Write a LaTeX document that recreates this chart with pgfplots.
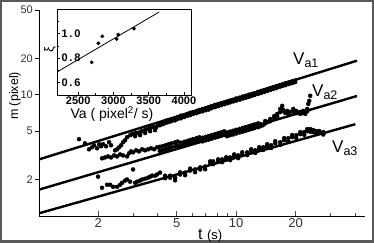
\documentclass[border=0pt]{standalone}
\usepackage{fontspec}
\setmainfont{Liberation Sans}
\usepackage{pgfplots}
\pgfplotsset{compat=1.18}
\newcommand\fs[1]{\fontsize{#1bp}{#1bp}\selectfont}
\begin{document}
\begin{tikzpicture}
\fill[black!65] (0,0) rectangle (374bp,243bp);
\fill[white] (2bp,3bp) rectangle (372bp,241bp);
% y axis only
\begin{axis}[at={(39bp,27bp)}, anchor=south west, scale only axis,
  width=326bp, height=206bp, xmode=log, ymode=log,
  xmin=1, xmax=45, ymin=1, ymax=50,
  hide x axis, axis y line*=left,
  axis line style={line width=1bp},
  ytick={2,5,10,20,50}, yticklabels={2,5,10,20,50},
  tick align=outside, major tick length=4.5bp,
  tick style={line width=0.8bp, black},
  yticklabel style={font=\fs{11}, text=black!80, inner sep=1.5bp},
  /pgf/number format/assume math mode=true]
\end{axis}
% main
\begin{axis}[at={(39bp,27bp)}, anchor=south west, scale only axis,
  width=326bp, height=206bp, xmode=log, ymode=log,
  xmin=1, xmax=45, ymin=1, ymax=50,
  hide y axis, axis x line*=bottom,
  axis line style={line width=1bp},
  xtick={2,5,10,20}, xticklabels={2,5,10,20},
  minor xtick={3,4,6,7,8,9,30,40},
  tick align=inside, major tick length=5bp, minor tick length=3bp,
  tick style={line width=0.8bp, black!70},
  xticklabel style={font=\fs{13}, text=black!80, inner sep=2bp},
  /pgf/number format/assume math mode=true]
\addplot[black, line width=2.4bp] coordinates {(1,2.93) (41,19.1)};
\addplot[black, line width=2.4bp] coordinates {(1,1.65) (41,9.77)};
\addplot[black, line width=2.4bp] coordinates {(1,1.053) (40.2,5.72)};
% series 1
\addplot[only marks, mark=*, mark size=2bp, black] table {
t m
1.596 4.30
1.712 3.98
1.794 3.55
1.858 3.69
1.902 3.83
1.970 3.62
2.017 3.91
2.064 3.76
2.113 3.91
2.188 3.76
2.266 4.06
2.320 3.83
2.431 3.48
2.489 3.55
2.548 3.69
2.608 3.83
2.670 4.06
2.733 4.22
2.797 4.47
2.897 4.64
2.966 4.73
3.072 4.83
3.145 4.83
3.256 4.92
3.333 5.01
3.452 5.11
3.533 5.21
3.660 5.31
3.791 5.41
3.927 5.41
4.018 5.62
3.072 4.55
3.256 4.64
3.452 4.83
3.660 5.01
3.880 5.11
4.1 5.85
4.1 5.60
4.25 5.95
4.25 5.72
4.4 6.10
4.4 5.85
4.55 6.18
4.55 5.95
4.7 6.30
4.7 6.05
4.9 6.40
4.9 6.15
5.05 6.55
5.05 6.30
5.25 6.72
5.25 6.40
5.45 6.80
5.45 6.55
5.65 6.95
5.65 6.70
5.85 7.10
5.85 6.80
6.05 7.20
6.05 6.95
6.3 7.35
6.3 7.05
6.5 7.50
6.5 7.20
6.75 7.62
6.75 7.30
7.0 7.75
7.0 7.45
7.25 7.90
7.25 7.55
7.5 8.05
7.5 7.75
7.8 8.25
7.8 7.90
8.1 8.38
8.1 8.05
8.4 8.55
8.4 8.20
8.7 8.65
8.7 8.35
9.0 8.80
9.0 8.50
9.3 8.95
9.3 8.65
9.65 9.10
9.65 8.80
10.0 9.30
10.0 8.95
10.4 9.45
10.4 9.10
10.8 9.65
10.8 9.30
11.2 9.80
11.2 9.45
11.6 10.0
11.6 9.60
12.0 10.15
12.0 9.80
12.4 10.30
12.4 9.95
12.9 10.55
12.9 10.15
13.4 10.75
13.4 10.35
13.9 10.95
13.9 10.55
14.4 11.15
14.4 10.75
14.9 11.35
14.9 10.95
15.4 11.55
15.4 11.15
16.0 11.80
16.0 11.35
16.6 12.0
16.6 11.60
17.2 12.2
17.2 11.80
17.8 12.45
17.8 12.0
18.5 12.65
18.5 12.25
19.2 12.90
19.2 12.45
19.9 13.1
19.9 12.7
};
% series 2
\addplot[only marks, mark=*, mark size=2bp, black] table {
t m
1.993 2.11
2.088 2.99
2.163 3.04
2.240 3.10
2.320 3.04
2.403 3.16
2.489 3.10
2.578 3.22
2.670 3.16
2.797 3.10
2.863 3.29
2.931 3.41
3.000 3.35
3.108 3.48
3.218 3.41
3.333 3.55
3.452 3.48
3.575 3.55
3.703 3.62
3.836 3.55
3.972 3.69
4.1 3.72
4.1 3.44
4.25 3.78
4.25 3.50
4.4 3.84
4.4 3.56
4.55 3.91
4.55 3.62
4.7 3.97
4.7 3.67
4.9 4.05
4.9 3.75
5.05 4.11
5.05 3.80
5.25 4.02
5.25 3.76
5.45 4.09
5.45 3.83
5.65 4.16
5.65 3.90
5.85 4.24
5.85 3.97
6.05 4.30
6.05 4.03
6.3 4.39
6.3 4.11
6.5 4.46
6.5 4.17
6.75 4.42
6.75 4.13
7.0 4.49
7.0 4.20
7.25 4.57
7.25 4.27
7.5 4.64
7.5 4.34
7.8 4.73
7.8 4.42
8.1 4.82
8.1 4.50
8.4 4.90
8.4 4.58
8.7 4.99
8.7 4.66
9.0 4.88
9.0 4.55
9.3 4.96
9.3 4.63
9.65 5.05
9.65 4.70
10.0 5.14
10.0 4.79
10.4 5.23
10.4 4.88
10.8 5.33
10.8 4.96
11.2 5.42
11.2 5.05
11.6 5.51
11.6 5.14
12.0 5.60
12.0 5.22
12.4 5.70
12.4 5.31
12.9 5.80
12.9 5.40
13.24 5.73
14.04 6.07
14.88 6.31
15.59 6.68
16.15 6.95
16.73 7.64
17.12 8.10
17.32 7.50
17.73 7.08
18.15 7.36
18.80 7.22
19.47 7.64
20.16 7.36
21.13 7.22
21.88 7.36
22.40 7.22
22.93 7.64
23.20 8.41
23.47 8.91
23.74 9.81
13.24 5.50
13.64 5.60
14.04 5.80
14.46 5.95
14.88 6.05
15.59 6.40
16.15 6.65
16.73 7.20
17.12 7.40
18.15 7.05
18.50 7.05
19.47 7.30
19.80 7.10
20.16 7.05
20.65 7.10
21.13 6.95
21.50 7.05
22.40 6.95
22.93 7.30
};
% series 3
\addplot[only marks, mark=*, mark size=2bp, black] table {
t m
2.088 1.71
2.214 1.81
2.293 1.81
2.375 1.74
2.489 1.74
2.578 1.81
2.639 1.88
2.733 1.96
2.797 2.00
2.897 1.92
3.000 2.42
3.072 1.88
3.145 1.92
3.256 1.96
3.333 2.00
3.452 2.03
3.575 2.07
3.660 2.11
3.747 2.15
3.880 2.15
3.972 2.20
4.11 2.28
4.36 2.15
4.62 2.07
4.90 2.07
5.20 2.20
5.51 2.28
5.84 2.37
6.19 2.42
6.57 2.42
6.96 2.56
7.38 2.71
7.64 2.82
8.10 2.82
8.49 2.93
8.90 2.93
9.32 3.04
9.77 3.10
10.24 3.16
10.73 3.22
11.37 3.35
11.92 3.41
12.49 3.48
13.09 3.55
13.71 3.69
14.37 3.76
15.06 3.83
15.78 3.98
16.73 4.06
17.52 4.22
18.37 4.38
19.24 4.47
20.16 4.64
21.13 4.73
22.14 4.92
22.93 5.01
23.74 5.21
24.60 4.92
25.47 5.01
26.38 4.83
27.65 4.92
4.36 2.05
4.90 1.97
5.51 2.17
6.19 2.30
6.96 2.43
7.64 2.68
8.49 2.78
9.32 2.89
10.24 3.00
11.37 3.18
12.49 3.31
13.71 3.51
15.06 3.64
16.73 3.86
18.37 4.16
20.16 4.41
22.14 4.67
23.74 4.95
25.47 4.76
27.65 4.70
4.62 2.15
5.20 2.29
5.84 2.46
6.57 2.52
7.38 2.82
8.10 2.93
8.90 3.05
9.77 3.22
10.73 3.35
11.92 3.55
13.09 3.69
14.37 3.91
15.78 4.14
17.52 4.39
19.24 4.65
21.13 4.92
22.93 5.21
24.60 5.12
26.38 5.02
};
\end{axis}
% inset
\begin{axis}[at={(57bp,148bp)}, anchor=south west, scale only axis,
  width=134bp, height=86bp,
  xmin=2200, xmax=4100, ymin=0.5, ymax=1.2,
  axis line style={line width=0.9bp},
  xtick={2500,3000,3500,4000}, xticklabels={2500,3000,3500,4000},
  minor xtick={2750,3250,3750},
  ytick={0.6,0.8,1.0}, yticklabels={0\,.\,6,0\,.\,8,1\,.\,0},
  minor ytick={0.7,0.9,1.1},
  xtick pos=left, ytick pos=left,
  tick align=inside, major tick length=3bp, minor tick length=2bp,
  tick style={line width=0.6bp, black},
  xticklabel style={font=\fs{11}\bfseries, inner sep=1.5bp},
  yticklabel style={font=\fs{11}\bfseries, anchor=west, xshift=1bp},
  /pgf/number format/assume math mode=true]
\addplot[black, line width=0.8bp] coordinates {(2200,0.687) (3650,1.176)};
\addplot[only marks, mark=*, mark size=1.7bp, black] table {
x y
2692 0.766
2786 0.921
2842 0.978
3046 0.956
3069 0.991
3292 1.040
};
\end{axis}
\node[rotate=90, anchor=center] at (50bp,193bp) {\fs{13}ξ};
\node[anchor=base] at (112bp,124bp) {\fs{14}Va ( pixel\textsuperscript{2}/ s)};
\node[rotate=90, anchor=center, inner sep=0] at (15bp,147bp) {\fs{12.5}m (pixel)};
\node[anchor=base west, inner sep=0] at (198bp,4bp) {\fs{16}t \fs{13}(s)};
\node[anchor=base west, inner sep=0] at (293bp,178bp) {\fs{17}V\raisebox{-3bp}{\fs{12.5}a1}};
\node[anchor=base west, inner sep=0] at (312bp,146bp) {\fs{17}V\raisebox{-3bp}{\fs{12.5}a2}};
\node[anchor=base west, inner sep=0] at (332bp,90bp) {\fs{17}V\raisebox{-3bp}{\fs{12.5}a3}};
\pgfresetboundingbox
\useasboundingbox (0,0) rectangle (374bp,243bp);
\end{tikzpicture}
\end{document}
